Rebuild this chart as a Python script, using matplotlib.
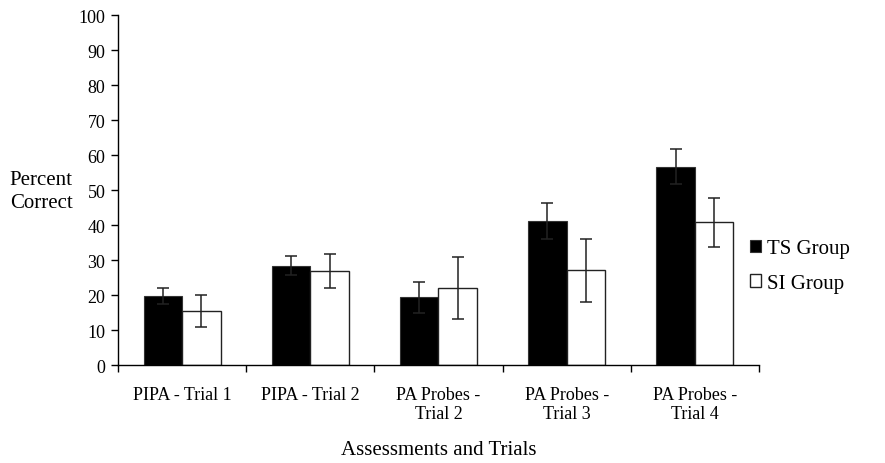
import matplotlib.pyplot as plt
import numpy as np

plt.rcParams['font.family'] = ['Liberation Serif', 'DejaVu Serif']

categories = ["PIPA - Trial 1", "PIPA - Trial 2", "PA Probes -\nTrial 2",
              "PA Probes -\nTrial 3", "PA Probes -\nTrial 4"]
ts_mean = [19.6, 28.4, 19.3, 41.2, 56.7]
ts_err = [2.3, 2.7, 4.3, 5.1, 5.0]
si_mean = [15.5, 26.8, 22.0, 27.1, 40.8]
si_err = [4.6, 4.9, 8.8, 9.0, 7.0]

fig = plt.figure(figsize=(8.85, 4.64), dpi=100)
ax = fig.add_axes([0.1333, 0.2112, 0.7243, 0.7543])

x = np.arange(len(categories))
w = 0.3
err_kw = dict(ecolor='#222222', elinewidth=1.1, capsize=4, capthick=1.1)
ax.bar(x - w / 2, ts_mean, w, color='black', edgecolor='#333333',
       linewidth=0.8, yerr=ts_err, error_kw=err_kw, label='TS Group')
ax.bar(x + w / 2, si_mean, w, color='white', edgecolor='#222222',
       linewidth=1.0, yerr=si_err, error_kw=err_kw, label='SI Group')

ax.set_xlim(-0.5, len(categories) - 0.5)
ax.set_ylim(0, 100)
ax.set_yticks(np.arange(0, 101, 10))
ax.set_xticks(x)
ax.set_xticklabels(categories, fontsize=13, linespacing=1.15)
ax.set_xticks(np.arange(-0.5, len(categories), 1), minor=True)
ax.tick_params(axis='x', which='major', length=0, pad=15)
ax.tick_params(axis='x', which='minor', length=5, direction='out', width=1)
ax.tick_params(axis='y', length=5, width=1, labelsize=13, pad=4)

for s in ['top', 'right']:
    ax.spines[s].set_visible(False)
for s in ['left', 'bottom']:
    ax.spines[s].set_linewidth(1)

fig.text(0.011, 0.587, "Percent\nCorrect", fontsize=15, ha='left', va='center',
         linespacing=1.3)
fig.text(0.496, 0.030, "Assessments and Trials", fontsize=15, ha='center', va='center')

ax.legend(loc='center left', bbox_to_anchor=(0.826, 0.424), bbox_transform=fig.transFigure,
          frameon=False, fontsize=15, handlelength=0.55, handleheight=0.55,
          handletextpad=0.3, labelspacing=0.75)

fig.savefig('out.png', dpi=100)
